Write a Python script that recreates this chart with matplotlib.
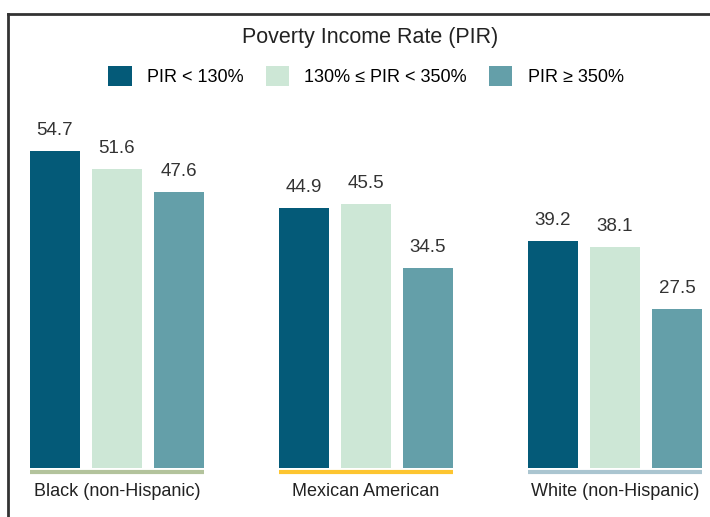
import numpy as np
import matplotlib.pyplot as plt
from matplotlib.patches import Patch
from matplotlib.lines import Line2D

plt.rcParams['font.family'] = ['Liberation Sans', 'DejaVu Sans']

groups = ['Black (non-Hispanic)', 'Mexican American', 'White (non-Hispanic)']
series = ['PIR < 130%', '130% ≤ PIR < 350%', 'PIR ≥ 350%']
low = [54.7, 44.9, 39.2]
mid = [51.6, 45.5, 38.1]
high = [47.6, 34.5, 27.5]

bar_colors = ['#045a78', '#cde7d6', '#649fa9']
group_line_colors = ['#b3c39c', '#fdc530', '#aac5d0']

W, H = 710, 517
fig = plt.figure(figsize=(W / 100, H / 100), dpi=100)
# axes: bottom edge at pixel 480, full width
ax = fig.add_axes([0, 1 - 480 / H, 1, 480 / H])
ppu = 5.8  # pixels per unit
ax.set_ylim(-12 / ppu, 468 / ppu)
ax.set_xlim(-117 / 249, (W - 117) / 249)
ax.axis('off')

x = np.arange(len(groups))
offset = 62 / 249
width = 50 / 249
for i, vals in enumerate([low, mid, high]):
    xs = x + (i - 1) * offset
    ax.bar(xs, vals, width=width, color=bar_colors[i], label=series[i])
    for xx, v in zip(xs, vals):
        ax.text(xx, v + 2.0, f'{v:.1f}', ha='center', va='bottom',
                fontsize=13.5, color='#333333')

for j, g in enumerate(groups):
    ax.hlines(-0.7, x[j] - 0.351, x[j] + 0.351, color=group_line_colors[j],
              linewidth=3)
    fig.text((117 + 249 * j) / W, 1 - 492 / H, g, ha='center', va='center',
             fontsize=13, color='#222222')

fig.text(370 / W, 1 - 37 / H, 'Poverty Income Rate (PIR)', ha='center',
         va='center', fontsize=15.5, color='#222222')

handles = [Patch(facecolor=c, edgecolor='none') for c in bar_colors]
fig.legend(handles, series, loc='center', bbox_to_anchor=(366 / W, 1 - 76 / H),
           ncol=3, frameon=False, fontsize=13, handlelength=1.3,
           handleheight=1.3, columnspacing=1.2, handletextpad=0.85)

# frame lines
fig.add_artist(Line2D([8 / W, 1], [1 - 14 / H, 1 - 14 / H], color='#333333',
                      linewidth=2, transform=fig.transFigure))
fig.add_artist(Line2D([8 / W, 8 / W], [1 - 14 / H, 0], color='#333333',
                      linewidth=2, transform=fig.transFigure))

fig.savefig('out.png', dpi=100, facecolor='white')
